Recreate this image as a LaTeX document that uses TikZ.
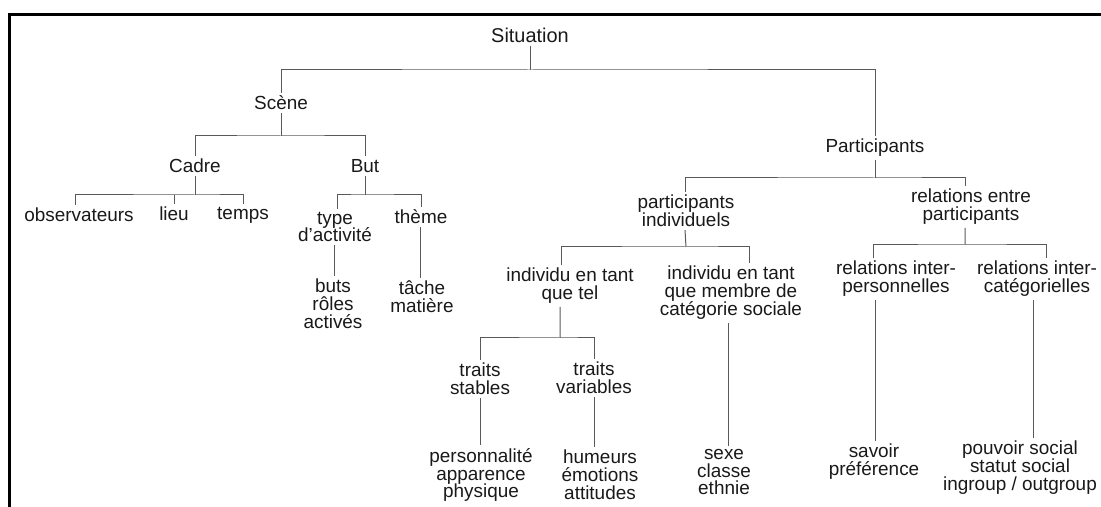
\documentclass[tikz,border=0pt]{standalone}
\usepackage{fontspec}
\setmainfont{Liberation Sans}
\begin{document}
\begin{tikzpicture}[x=1bp,y=-1bp,
  txt/.style={align=center,inner sep=3bp,text=black!90,font=\fontsize{19}{18}\selectfont},
  link/.style={draw=black!65,line width=1bp}]
\useasboundingbox (0,0) rectangle (1101,507);
\draw[line width=3bp] (9,507) -- (9,15) -- (1101,15);

\node[txt,font=\fontsize{20}{22}\selectfont] (sit) at (530,35) {Situation};
\node[txt] (scene) at (281,103) {Scène};
\node[txt] (part) at (875,148) {Participants};
\node[txt] (cadre) at (195,166) {Cadre};
\node[txt] (but) at (365,166) {But};
\node[txt] (obs) at (79,215) {observateurs};
\node[txt] (lieu) at (174,214) {lieu};
\node[txt] (temps) at (243,215) {temps};
\node[txt] (type) at (335,227) {type\\d’activité};
\node[txt] (theme) at (421,217) {thème};
\node[txt] (buts) at (333,304) {buts\\rôles\\activés};
\node[txt] (tache) at (422,297) {tâche\\matière};
\node[txt] (pind) at (686,211) {participants\\individuels};
\node[txt] (rel) at (971,207) {relations entre\\participants};
\node[txt] (indtel) at (570,286) {individu en tant\\que tel};
\node[txt] (memb) at (731,293) {individu en tant\\que membre de\\catégorie sociale};
\node[txt] (inter1) at (896,279) {relations inter-\\personnelles};
\node[txt] (inter2) at (1037,279) {relations inter-\\catégorielles};
\node[txt] (stab) at (480,379) {traits\\stables};
\node[txt] (var) at (594,378) {traits\\variables};
\node[txt] (pers) at (481,475) {personnalité\\apparence\\physique};
\node[txt] (hum) at (600,475) {humeurs\\émotions\\attitudes};
\node[txt] (sexe) at (724,472) {sexe\\classe\\ethnie};
\node[txt] (savoir) at (874,462) {savoir\\préférence};
\node[txt] (pouv) at (1020,468) {pouvoir social\\statut social\\ingroup / outgroup};

\coordinate (j1) at (530,70);
\coordinate (j2) at (281,136);
\coordinate (j3) at (195,195);
\coordinate (j4) at (365,195);
\coordinate (j5) at (875,178);
\coordinate (j6) at (686,247);
\coordinate (j7) at (965,245);
\coordinate (j8) at (560,338);

\draw[link] (sit.south) -- (j1);
\draw[link] (scene.north) |- (j1) -| (part.north);
\draw[link] (scene.south) -- (j2);
\draw[link] (cadre.north) |- (j2) -| (but.north);
\draw[link] (cadre.south) -- (j3);
\draw[link] ([xshift=-4]obs.north) |- (j3) -| (temps.north);
\draw[link] (lieu.north) -- (lieu.north |- j3);
\draw[link] (but.south) -- (j4);
\draw[link] ([xshift=3]type.north) |- (j4) -| (theme.north);
\draw[link] ([xshift=-1]type.south) -- ([xshift=-1]type.south |- buts.north);
\draw[link] ([xshift=-1]theme.south) -- ([xshift=-1]theme.south |- tache.north);
\draw[link] (part.south) -- (j5);
\draw[link] ([xshift=-1]pind.north) |- (j5) -| ([xshift=-6]rel.north);
\draw[link] ([xshift=-1]pind.south) -- (j6);
\draw[link] ([xshift=-6]rel.south) -- (j7);
\draw[link] ([xshift=-9]indtel.north) |- (j6) -| ([xshift=19]memb.north);
\draw[link] ([xshift=-23]inter1.north) |- (j7) -| ([xshift=10]inter2.north);
\draw[link] ([xshift=-10]indtel.south) -- (j8);
\draw[link] (stab.north) |- (j8) -| (var.north);
\draw[link] (stab.south) -- (stab.south |- pers.north);
\draw[link] (var.south) -- (var.south |- hum.north);
\draw[link] ([xshift=-3]memb.south) -- ([xshift=-3]memb.south |- sexe.north);
\draw[link] ([xshift=1]savoir.north) -- ([xshift=1]savoir.north |- inter1.south);
\draw[link] ([xshift=-4]inter2.south) -- ([xshift=-4]inter2.south |- pouv.north);
\end{tikzpicture}
\end{document}
